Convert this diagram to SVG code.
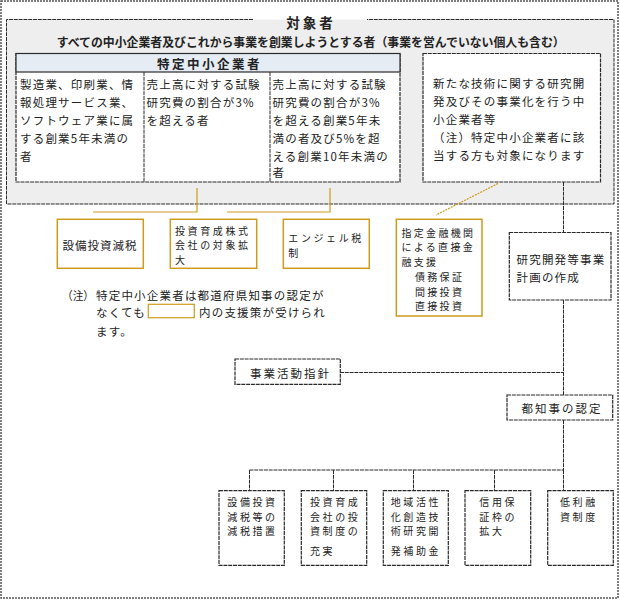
<svg xmlns="http://www.w3.org/2000/svg" width="620" height="600" viewBox="0 0 620 600">
<style>
.t{font-family:"Noto Sans CJK JP","Noto Sans CJK SC",sans-serif;font-size:11.5px;fill:#222;letter-spacing:1.2px;dominant-baseline:central}
.s{font-size:10px;letter-spacing:2.6px}
.b{font-weight:bold}
.box{fill:#fff;stroke:#2a2a2a;stroke-width:1.2;stroke-dasharray:4 0.8}
.gold{fill:#fff;stroke:#cf9b1c;stroke-width:1.5}
.ln{fill:none;stroke:#2a2a2a;stroke-width:1;stroke-dasharray:4 0.8}
.gl{fill:none;stroke:#cf9b1c;stroke-width:1.2}
</style>
<rect x="0" y="0" width="620" height="600" fill="#fff"/>
<rect x="1" y="1" width="617" height="597" fill="none" stroke="#555" stroke-width="1.5" stroke-dasharray="2 1"/>

<g id="target-group">
<rect x="6.5" y="19.5" width="607.5" height="184.5" fill="#eeeeee" stroke="none"/>
<path d="M253,19.5 H6.5 V204 H614 V19.5 H367" class="ln" stroke-width="1.3"/>
<text class="t b" x="311" y="22.3" text-anchor="middle" style="font-size:13.5px;letter-spacing:3px">対象者</text>
<text class="t b" x="56.7" y="41.3" textLength="508" lengthAdjust="spacingAndGlyphs" style="font-size:12px;letter-spacing:0">すべての中小企業者及びこれから事業を創業しようとする者（事業を営んでいない個人も含む）</text>
</g>

<g id="tokutei-table">
<rect x="16" y="53.5" width="384" height="128.5" class="box"/>
<rect x="16" y="53.5" width="384" height="18.5" fill="#e5ecf4" stroke="#2a2a2a" stroke-width="1.2"/>
<text class="t b" x="209.5" y="63" text-anchor="middle" style="font-size:12.5px;letter-spacing:2.5px">特定中小企業者</text>
<line x1="144" y1="72" x2="144" y2="182" class="ln"/>
<line x1="270" y1="72" x2="270" y2="182" class="ln"/>
<text class="t" x="20" y="84">製造業、印刷業、情</text>
<text class="t" x="20" y="102">報処理サービス業、</text>
<text class="t" x="20" y="120">ソフトウェア業に属</text>
<text class="t" x="20" y="138">する創業5年未満の</text>
<text class="t" x="20" y="155.5">者</text>
<text class="t" x="146.5" y="84">売上高に対する試験</text>
<text class="t" x="146.5" y="102">研究費の割合が3%</text>
<text class="t" x="146.5" y="120">を超える者</text>
<text class="t" x="272.5" y="84">売上高に対する試験</text>
<text class="t" x="272.5" y="102">研究費の割合が3%</text>
<text class="t" x="272.5" y="120">を超える創業5年未</text>
<text class="t" x="272.5" y="138">満の者及び5%を超</text>
<text class="t" x="272.5" y="155.5">える創業10年未満の</text>
<text class="t" x="272.5" y="172">者</text>
</g>

<g id="new-tech">
<rect x="423" y="53.5" width="177.5" height="128.5" class="box"/>
<text class="t" x="433" y="83">新たな技術に関する研究開</text>
<text class="t" x="433" y="101">発及びその事業化を行う中</text>
<text class="t" x="433" y="119">小企業者等</text>
<text class="t" x="433" y="137">（注）特定中小企業者に該</text>
<text class="t" x="433" y="154.5">当する方も対象になります</text>
</g>

<g id="connectors">
<line x1="563.5" y1="182" x2="563.5" y2="232.5" class="ln"/>
<line x1="563.5" y1="300" x2="563.5" y2="395" class="ln"/>
<line x1="340" y1="372.5" x2="563.5" y2="372.5" class="ln"/>
<line x1="563.5" y1="420" x2="563.5" y2="470" class="ln"/>
<line x1="249.5" y1="470" x2="563.5" y2="470" class="ln"/>
<line x1="249.5" y1="470" x2="249.5" y2="490.7" class="ln"/>
<line x1="333.5" y1="470" x2="333.5" y2="490.7" class="ln"/>
<line x1="413.5" y1="470" x2="413.5" y2="490.7" class="ln"/>
<line x1="494.5" y1="470" x2="494.5" y2="490.7" class="ln"/>
<line x1="563.5" y1="470" x2="563.5" y2="490.7" class="ln"/>
<path d="M197,188 V212 H93" class="gl"/>
<path d="M330,188 V212 H227" class="gl"/>
<line x1="498" y1="183.5" x2="436" y2="215" class="gl" stroke-width="1" stroke-dasharray="2 1"/>
</g>

<g id="setsubi-zei">
<rect x="57.3" y="219.3" width="86" height="49" class="gold"/>
<text class="t" x="62.5" y="245" style="letter-spacing:1px">設備投資減税</text>
</g>
<g id="toushi-ikusei">
<rect x="170.3" y="219.3" width="86.4" height="49" class="gold"/>
<text class="t s" x="175" y="230">投資育成株式</text>
<text class="t s" x="175" y="244.5">会社の対象拡</text>
<text class="t s" x="175" y="259">大</text>
</g>
<g id="angel">
<rect x="283.3" y="219.3" width="86" height="49" class="gold"/>
<text class="t s" x="288.3" y="237.5">エンジェル税</text>
<text class="t s" x="288.3" y="252">制</text>
</g>
<g id="shitei-kinyu">
<rect x="396.3" y="219.3" width="85.7" height="96.7" class="gold"/>
<text class="t s" x="401.5" y="232.3" style="letter-spacing:2.3px">指定金融機関</text>
<text class="t s" x="401.5" y="246.8" style="letter-spacing:2.3px">による直接金</text>
<text class="t s" x="401.5" y="261.3" style="letter-spacing:2.3px">融支援</text>
<text class="t s" x="415" y="276.5" style="letter-spacing:2.3px">債務保証</text>
<text class="t s" x="415" y="291" style="letter-spacing:2.3px">間接投資</text>
<text class="t s" x="415" y="305.5" style="letter-spacing:2.3px">直接投資</text>
</g>

<g id="note">
<text class="t" x="62" y="294.5" textLength="32" lengthAdjust="spacingAndGlyphs" style="letter-spacing:0">（注）</text>
<text class="t" x="96" y="294.5">特定中小企業者は都道府県知事の認定が</text>
<text class="t" x="96" y="312.3">なくても</text>
<rect x="148.3" y="304.3" width="46" height="13.4" fill="#fff" stroke="#cf9b1c" stroke-width="1.2"/>
<text class="t" x="199" y="312.3">内の支援策が受けられ</text>
<text class="t" x="96" y="330.7">ます。</text>
</g>

<g id="kenkyu-keikaku">
<rect x="509.3" y="232.5" width="101.7" height="67.5" class="box"/>
<text class="t" x="516.5" y="259">研究開発等事業</text>
<text class="t" x="516.5" y="276.7">計画の作成</text>
</g>

<g id="jigyo-shishin">
<rect x="235" y="359" width="105.3" height="25.3" class="box"/>
<text class="t" x="250" y="372.5" style="letter-spacing:2px">事業活動指針</text>
</g>

<g id="chiji-nintei">
<rect x="507" y="395" width="105.7" height="25" class="box"/>
<text class="t" x="521.5" y="408.3" style="letter-spacing:2px">都知事の認定</text>
</g>

<g id="b1">
<rect x="219" y="490.7" width="65.3" height="74.6" class="box"/>
<text class="t s" x="227.3" y="501.5">設備投資</text>
<text class="t s" x="227.3" y="516.1">減税等の</text>
<text class="t s" x="227.3" y="530.7">減税措置</text>
</g>
<g id="b2">
<rect x="301.3" y="490.7" width="65.4" height="74.6" class="box"/>
<text class="t s" x="310" y="501.5">投資育成</text>
<text class="t s" x="310" y="516.1">会社の投</text>
<text class="t s" x="310" y="530.7">資制度の</text>
<text class="t s" x="310" y="550">充実</text>
</g>
<g id="b3">
<rect x="383.3" y="490.7" width="65" height="74.6" class="box"/>
<text class="t s" x="390.7" y="501.5">地域活性</text>
<text class="t s" x="390.7" y="516.1">化創造技</text>
<text class="t s" x="390.7" y="530.7">術研究開</text>
<text class="t s" x="390.7" y="550">発補助金</text>
</g>
<g id="b4">
<rect x="465" y="490.7" width="65.7" height="74.6" class="box"/>
<text class="t s" x="479.3" y="501.5">信用保</text>
<text class="t s" x="479.3" y="516.1">証枠の</text>
<text class="t s" x="479.3" y="530.7">拡大</text>
</g>
<g id="b5">
<rect x="547.7" y="490.7" width="65.6" height="74.6" class="box"/>
<text class="t s" x="560" y="501.5">低利融</text>
<text class="t s" x="560" y="516.1">資制度</text>
</g>
</svg>
